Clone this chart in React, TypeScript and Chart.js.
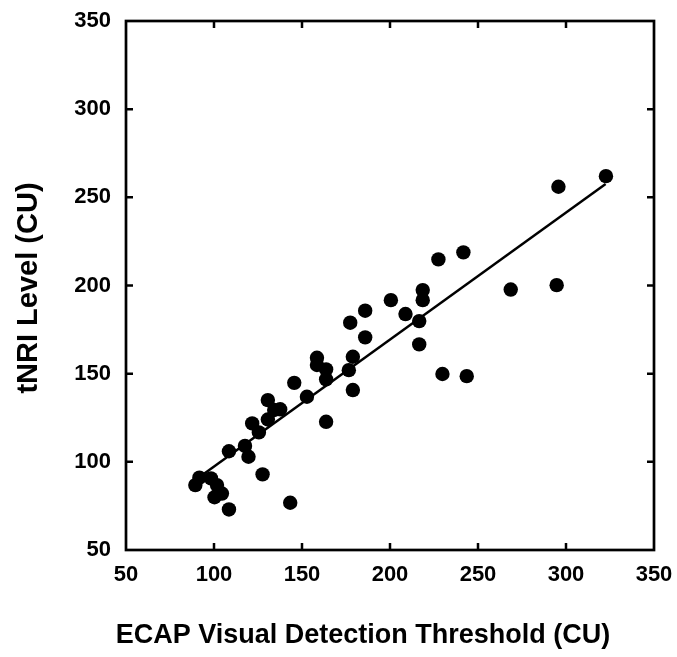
import React, { useEffect, useRef } from 'react';
import { Chart, registerables } from 'chart.js';

Chart.register(...registerables);

// ECAP visual detection threshold (CU) for each subject
const thresholdCU = [
  89.4, 91.7, 98.3, 101.7, 104.5, 100.3, 108.5, 108.5, 117.6, 119.6,
  127.6, 143.3, 121.7, 125.5, 130.6, 130.6, 134.2, 137.6, 145.6, 152.8,
  158.5, 158.5, 163.7, 163.7, 163.7, 176.6, 178.9, 178.9, 177.4, 185.9,
  185.9, 200.5, 208.8, 216.6, 216.6, 218.6, 218.6, 227.5, 241.7, 229.8,
  243.6, 268.6, 294.7, 295.7, 322.7,
];
// tNRI level (CU) for each subject
const tnriCU = [
  86.8, 91.0, 90.6, 86.8, 82.0, 79.9, 73.0, 106.0, 109.0, 102.9,
  92.9, 76.8, 121.8, 116.7, 135.0, 124.0, 129.4, 129.8, 144.8, 136.9,
  159.0, 154.9, 152.4, 146.8, 122.7, 152.0, 159.6, 140.7, 178.9, 185.7,
  170.6, 191.7, 183.8, 179.8, 166.6, 197.4, 191.7, 214.8, 218.8, 149.8,
  148.6, 197.7, 200.2, 256.0, 262.0,
];
// regression line end points
const fitThreshold = [90, 322.5];
const fitTnri = [90.1, 257.5];

const axisMin = 50;
const axisMax = 350;
const axisStep = 50;

const xTitle = 'ECAP Visual Detection Threshold (CU)';
const yTitle = 'tNRI Level (CU)';

const FONT = "'Liberation Sans', Arial, Helvetica, sans-serif";

const framePlugin = {
  id: 'frameTicks',
  afterDraw(chart: any) {
    const { ctx, chartArea } = chart;
    const xs = chart.scales.x;
    const ys = chart.scales.y;
    const { left, right, top, bottom } = chartArea;
    ctx.save();
    ctx.strokeStyle = '#000';
    ctx.lineWidth = 2.7;
    ctx.lineCap = 'butt';
    ctx.strokeRect(left, top, right - left, bottom - top);
    const tl = 7;
    ctx.lineWidth = 2.5;
    ctx.beginPath();
    for (let v = axisMin + axisStep; v < axisMax; v += axisStep) {
      const px = xs.getPixelForValue(v);
      ctx.moveTo(px, bottom);
      ctx.lineTo(px, bottom - tl);
      ctx.moveTo(px, top);
      ctx.lineTo(px, top + tl);
      const py = ys.getPixelForValue(v);
      ctx.moveTo(left, py);
      ctx.lineTo(left + tl, py);
      ctx.moveTo(right, py);
      ctx.lineTo(right - tl, py);
    }
    ctx.stroke();

    ctx.fillStyle = '#000';
    ctx.textAlign = 'center';
    ctx.textBaseline = 'middle';
    ctx.font = `bold 27px ${FONT}`;
    ctx.fillText(xTitle, 363, 636);
    ctx.translate(29, 288);
    ctx.rotate(-Math.PI / 2);
    ctx.font = `bold 29px ${FONT}`;
    ctx.fillText(yTitle, 0, 0);
    ctx.restore();
  },
};

const zeroPad = (s: any) => {
  s.paddingTop = 0;
  s.paddingBottom = 0;
  s.paddingLeft = 0;
  s.paddingRight = 0;
};

export default function App() {
  const canvasRef = useRef<HTMLCanvasElement | null>(null);

  useEffect(() => {
    document.body.style.margin = '0';
    const canvas = canvasRef.current;
    if (!canvas) return;
    const chart = new Chart(canvas, {
      type: 'scatter',
      data: {
        datasets: [
          {
            type: 'line',
            data: fitThreshold.map((x, i) => ({ x, y: fitTnri[i] })),
            borderColor: '#000',
            borderWidth: 2.5,
            pointRadius: 0,
            showLine: true,
            fill: false,
            order: 2,
          } as any,
          {
            type: 'scatter',
            data: thresholdCU.map((x, i) => ({ x, y: tnriCU[i] })),
            backgroundColor: '#000',
            borderColor: '#000',
            borderWidth: 0,
            pointRadius: 7.2,
            order: 1,
          },
        ],
      },
      options: {
        animation: false,
        responsive: true,
        maintainAspectRatio: false,
        layout: { padding: { left: 0, top: 21, right: 23, bottom: 0 } },
        plugins: {
          legend: { display: false },
          tooltip: { enabled: false },
        },
        scales: {
          x: {
            type: 'linear',
            min: axisMin,
            max: axisMax,
            grid: { display: false, drawTicks: false },
            border: { display: false },
            ticks: {
              stepSize: axisStep,
              padding: 12,
              color: '#000',
              font: { family: FONT, size: 22, weight: 'bold' },
              maxRotation: 0,
            },
            afterFit: (s: any) => {
              s.height = 107;
              zeroPad(s);
            },
          },
          y: {
            type: 'linear',
            min: axisMin,
            max: axisMax,
            grid: { display: false, drawTicks: false },
            border: { display: false },
            ticks: {
              stepSize: axisStep,
              padding: 15,
              color: '#000',
              font: { family: FONT, size: 22, weight: 'bold' },
            },
            afterFit: (s: any) => {
              s.width = 126;
              zeroPad(s);
            },
          },
        },
      },
      plugins: [framePlugin],
    });
    return () => chart.destroy();
  }, []);

  return (
    <div style={{ position: 'fixed', left: 0, top: 0, width: 677, height: 657, background: '#fff' }}>
      <canvas ref={canvasRef} />
    </div>
  );
}
